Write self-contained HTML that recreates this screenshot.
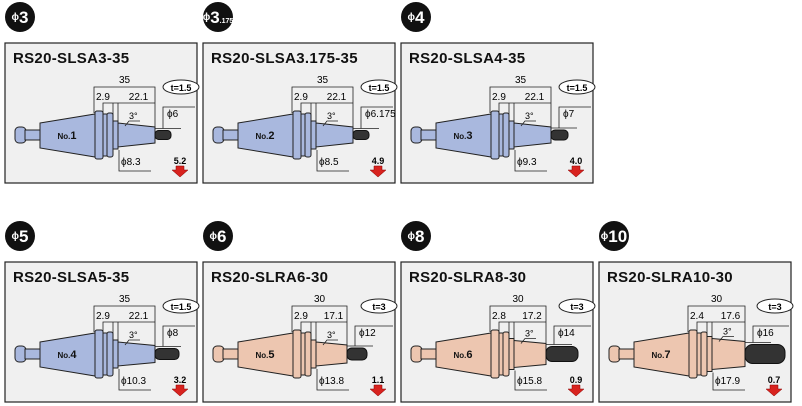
<!DOCTYPE html>
<html><head><meta charset="utf-8">
<style>
html,body{margin:0;padding:0;background:#fff;}
body{width:802px;height:406px;overflow:hidden;position:relative;font-family:"Liberation Sans",sans-serif;}
svg{position:absolute;left:0;top:0;}
</style></head>
<body>
<svg id="s" width="802" height="406" xmlns="http://www.w3.org/2000/svg"></svg>
<script>
var P=[
 {x:5,y:43,b:'3',sub:'',t:'RS20-SLSA3-35',L:'35',a:'2.9',c:'22.1',d:'ϕ6',e:'ϕ8.3',tt:'t=1.5',n:'No.1',r:'5.2',col:'#a9b8de',th:9,tl:16,tb:150},
 {x:203,y:43,b:'3',sub:'.175',t:'RS20-SLSA3.175-35',L:'35',a:'2.9',c:'22.1',d:'ϕ6.175',e:'ϕ8.5',tt:'t=1.5',n:'No.2',r:'4.9',col:'#a9b8de',th:9,tl:16,tb:150},
 {x:401,y:43,b:'4',sub:'',t:'RS20-SLSA4-35',L:'35',a:'2.9',c:'22.1',d:'ϕ7',e:'ϕ9.3',tt:'t=1.5',n:'No.3',r:'4.0',col:'#a9b8de',th:10,tl:17,tb:150},
 {x:5,y:262,b:'5',sub:'',t:'RS20-SLSA5-35',L:'35',a:'2.9',c:'22.1',d:'ϕ8',e:'ϕ10.3',tt:'t=1.5',n:'No.4',r:'3.2',col:'#a9b8de',th:11,tl:24,tb:150},
 {x:203,y:262,b:'6',sub:'',t:'RS20-SLRA6-30',L:'30',a:'2.9',c:'17.1',d:'ϕ12',e:'ϕ13.8',tt:'t=3',n:'No.5',r:'1.1',col:'#edc6b0',th:12,tl:20,tb:144},
 {x:401,y:262,b:'8',sub:'',t:'RS20-SLRA8-30',L:'30',a:'2.8',c:'17.2',d:'ϕ14',e:'ϕ15.8',tt:'t=3',n:'No.6',r:'0.9',col:'#edc6b0',th:15,tl:32,tb:145},
 {x:599,y:262,b:'10',sub:'',t:'RS20-SLRA10-30',L:'30',a:'2.4',c:'17.6',d:'ϕ16',e:'ϕ17.9',tt:'t=3',n:'No.7',r:'0.7',col:'#edc6b0',th:19,tl:40,tb:146}
];
var h='';
P.forEach(function(p){
 var X=p.x,Y=p.y;
 function x(v){return X+v;} function y(v){return Y+v;}
 h+='<circle cx="'+(X+15)+'" cy="'+(Y-26)+'" r="15" fill="#111"/>';
 h+='<text x="'+(X+15)+'" y="'+(Y-20)+'" fill="#fff" font-size="17" font-weight="bold" text-anchor="middle"><tspan font-size="10" dy="-3">ϕ</tspan><tspan dy="3">'+p.b+'</tspan>'+(p.sub?'<tspan font-size="7">'+p.sub+'</tspan>':'')+'</text>';
 h+='<rect x="'+X+'" y="'+Y+'" width="192" height="140" fill="#f0f0f0" stroke="#222" stroke-width="1.2"/>';
 h+='<text x="'+x(8)+'" y="'+y(20)+'" font-size="15" font-weight="bold" fill="#111" letter-spacing="0.3">'+p.t+'</text>';
 var cy=92, s='#222', f=p.col;
 h+='<rect x="'+x(10)+'" y="'+y(cy-8)+'" width="11" height="16" rx="4" fill="'+f+'" stroke="'+s+'"/>';
 h+='<rect x="'+x(20)+'" y="'+y(cy-5)+'" width="16" height="10" fill="'+f+'" stroke="'+s+'"/>';
 h+='<polygon points="'+x(35)+','+y(cy-12)+' '+x(90)+','+y(cy-21)+' '+x(90)+','+y(cy+22)+' '+x(35)+','+y(cy+13)+'" fill="'+f+'" stroke="'+s+'"/>';
 h+='<rect x="'+x(90)+'" y="'+y(cy-24)+'" width="8" height="48" rx="2" fill="'+f+'" stroke="'+s+'"/>';
 h+='<rect x="'+x(98)+'" y="'+y(cy-21)+'" width="4" height="42" fill="'+f+'" stroke="'+s+'"/>';
 h+='<rect x="'+x(102)+'" y="'+y(cy-22)+'" width="6" height="44" rx="2" fill="'+f+'" stroke="'+s+'"/>';
 var tl=p.tl,th=p.th,tb=p.tb;
 var bh1=Math.max(12,th/2+6), bh2=Math.max(8,th/2+3);
 h+='<rect x="'+x(108)+'" y="'+y(cy-bh1-2)+'" width="5" height="'+(2*bh1+4)+'" fill="'+f+'" stroke="'+s+'"/>';
 h+='<polygon points="'+x(113)+','+y(cy-bh1)+' '+x(tb)+','+y(cy-bh2)+' '+x(tb)+','+y(cy+bh2)+' '+x(113)+','+y(cy+bh1)+'" fill="'+f+'" stroke="'+s+'"/>';
 h+='<rect x="'+x(tb)+'" y="'+y(cy-th/2)+'" width="'+tl+'" height="'+th+'" rx="'+(th/2.5)+'" fill="#333" stroke="#111"/>';
 h+='<text x="'+x(62)+'" y="'+y(cy+4)+'" font-size="11" font-weight="bold" text-anchor="middle" fill="#111"><tspan font-size="8">'+p.n.slice(0,3)+'</tspan>'+p.n.slice(3)+'</text>';
 var L='stroke="#222" stroke-width="0.8" fill="none"';
 h+='<path d="M'+x(89)+' '+y(cy-22)+'V'+y(44)+'H'+x(tb)+'V'+y(cy-bh2)+'" '+L+'/>';
 h+='<path d="M'+x(98)+' '+y(cy-22)+'V'+y(60)+'H'+x(tb)+'M'+x(108)+' '+y(60)+'V'+y(cy-bh1)+'M'+x(113)+' '+y(60)+'V'+y(cy-bh1)+'" '+L+'/>';
 h+='<text x="'+x((89+tb)/2)+'" y="'+y(40)+'" font-size="10" text-anchor="middle">'+p.L+'</text>';
 h+='<text x="'+x(91)+'" y="'+y(57)+'" font-size="10">'+p.a+'</text>';
 h+='<text x="'+x((113+tb)/2+2)+'" y="'+y(57)+'" font-size="10" text-anchor="middle">'+p.c+'</text>';
 var lx=tb+8;
 h+='<path d="M'+x(lx)+' '+y(cy-th/2-2)+'V'+y(64)+'H'+x(190)+'M'+x(tb)+' '+y(cy-th/2-2)+'H'+x(lx+18)+'" '+L+'/>';
 h+='<text x="'+x(lx+4)+'" y="'+y(74)+'" font-size="10">'+p.d+'</text>';
 h+='<ellipse cx="'+x(176)+'" cy="'+y(44)+'" rx="18" ry="7" fill="#fff" stroke="#222"/>';
 h+='<text x="'+x(176)+'" y="'+y(48)+'" font-size="9" font-weight="bold" text-anchor="middle">'+p.tt+'</text>';
 h+='<path d="M'+x(120)+' '+y(cy-bh1+3)+'L'+x(124)+' '+y(cy-bh1-2)+'H'+x(135)+'" '+L+'/>';
 h+='<text x="'+x(124)+'" y="'+y(cy-bh1-4)+'" font-size="9">3°</text>';
 h+='<path d="M'+x(114)+' '+y(cy+bh1+3)+'V'+y(128)+'H'+x(146)+'" '+L+'/>';
 h+='<text x="'+x(116)+'" y="'+y(122)+'" font-size="10">'+p.e+'</text>';
 h+='<text x="'+x(175)+'" y="'+y(121)+'" font-size="9" font-weight="bold" text-anchor="middle">'+p.r+'</text>';
 h+='<polygon points="'+x(171)+','+y(123)+' '+x(179)+','+y(123)+' '+x(179)+','+y(127)+' '+x(183)+','+y(127)+' '+x(175)+','+y(134)+' '+x(167)+','+y(127)+' '+x(171)+','+y(127)+'" fill="#d8231f" stroke="#800" stroke-width="0.5"/>';
});
document.getElementById('s').innerHTML=h;
</script>
</body></html>
